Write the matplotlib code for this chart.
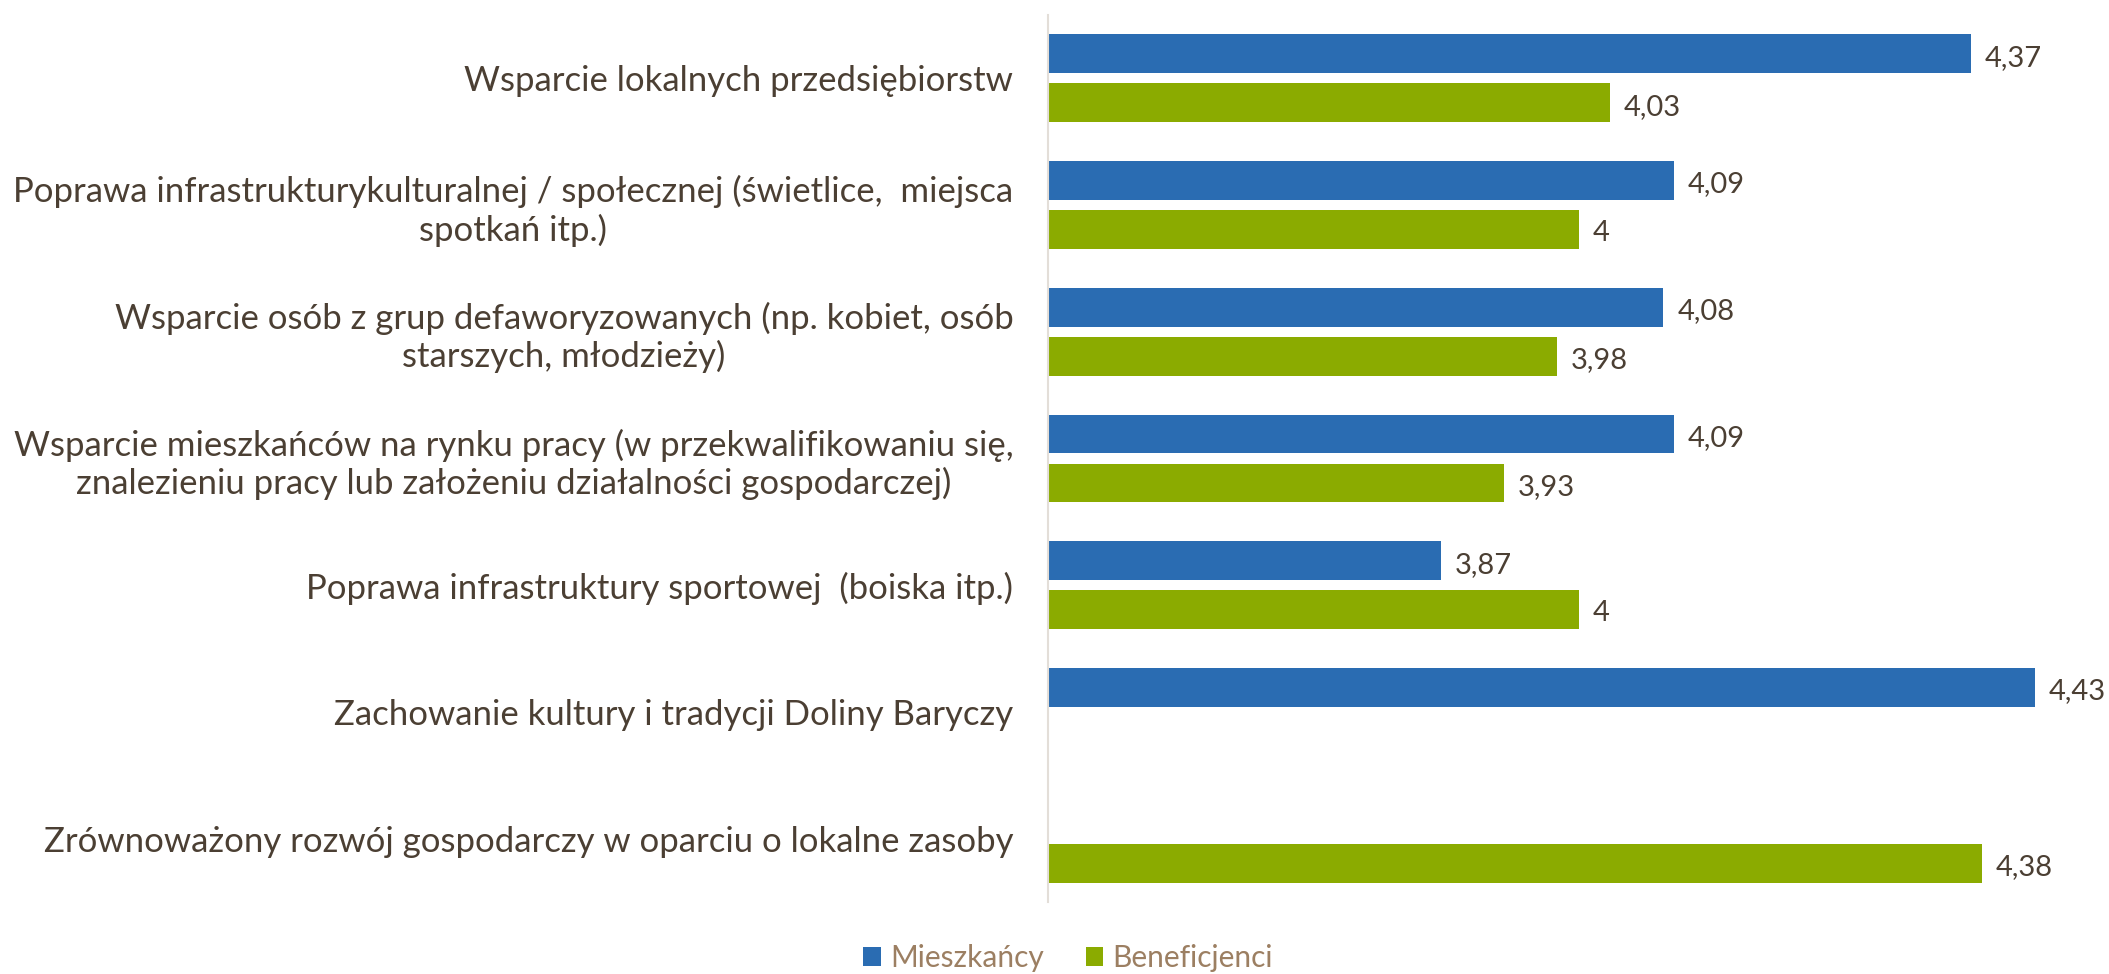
import numpy as np
import matplotlib
matplotlib.use('Agg')
import matplotlib.pyplot as plt

categories = [
    "Wsparcie lokalnych przedsiębiorstw",
    "Poprawa infrastrukturykulturalnej / społecznej (świetlice,  miejsca\nspotkań itp.)",
    "Wsparcie osób z grup defaworyzowanych (np. kobiet, osób\nstarszych, młodzieży)",
    "Wsparcie mieszkańców na rynku pracy (w przekwalifikowaniu się,\nznalezieniu pracy lub założeniu działalności gospodarczej)",
    "Poprawa infrastruktury sportowej  (boiska itp.)",
    "Zachowanie kultury i tradycji Doliny Baryczy",
    "Zrównoważony rozwój gospodarczy w oparciu o lokalne zasoby",
]
mieszkancy = [4.37, 4.09, 4.08, 4.09, 3.87, 4.43, np.nan]
beneficjenci = [4.03, 4.00, 3.98, 3.93, 4.00, np.nan, 4.38]
series_names = ["Mieszkańcy", "Beneficjenci"]

BLUE = "#2A6CB2"
GREEN = "#8BAB00"
TEXT = "#4B3F33"
LEGEND_TEXT = "#9C7F62"

plt.rcParams['font.family'] = ['Lato', 'DejaVu Sans']

fig = plt.figure(figsize=(21.09, 9.74), dpi=100)
ax = fig.add_axes([1048 / 2109, 1 - 902 / 974, 1 - 1048 / 2109, 887 / 974])

y = np.arange(len(categories))
h = 0.307
off = 0.193
b1 = ax.barh(y - off, mieszkancy, height=h, color=BLUE, label=series_names[0])
b2 = ax.barh(y + off, beneficjenci, height=h, color=GREEN, label=series_names[1])

ax.set_xlim(3.5, 4.5)
ax.set_ylim(len(categories) - 0.5, -0.5)

def fmt(v):
    return f"{v:g}".replace('.', ',')

for vals, ys in [(mieszkancy, y - off), (beneficjenci, y + off)]:
    for v, yy in zip(vals, ys):
        if np.isnan(v):
            continue
        ax.text(v + 0.013, yy + 0.03, fmt(v), va='center', ha='left', fontsize=21, color=TEXT)

ax.set_yticks(y)
ax.set_yticklabels(categories, fontsize=25, color=TEXT)
for lbl in ax.get_yticklabels():
    lbl.set_multialignment('center')
ax.tick_params(axis='y', length=0, pad=25)
ax.set_xticks([])

for s in ['top', 'right', 'bottom']:
    ax.spines[s].set_visible(False)
ax.spines['left'].set_color('#E3DED8')
ax.spines['left'].set_linewidth(1.5)

leg = fig.legend(handles=[b1, b2], loc='center', bbox_to_anchor=(1068 / 2109, 1 - 958 / 974),
                 ncol=2, frameon=False, fontsize=21.5, handlelength=0.6, handleheight=0.6,
                 handletextpad=0.3, columnspacing=1.4)
for t in leg.get_texts():
    t.set_color(LEGEND_TEXT)

fig.savefig("out.png", dpi=100)
